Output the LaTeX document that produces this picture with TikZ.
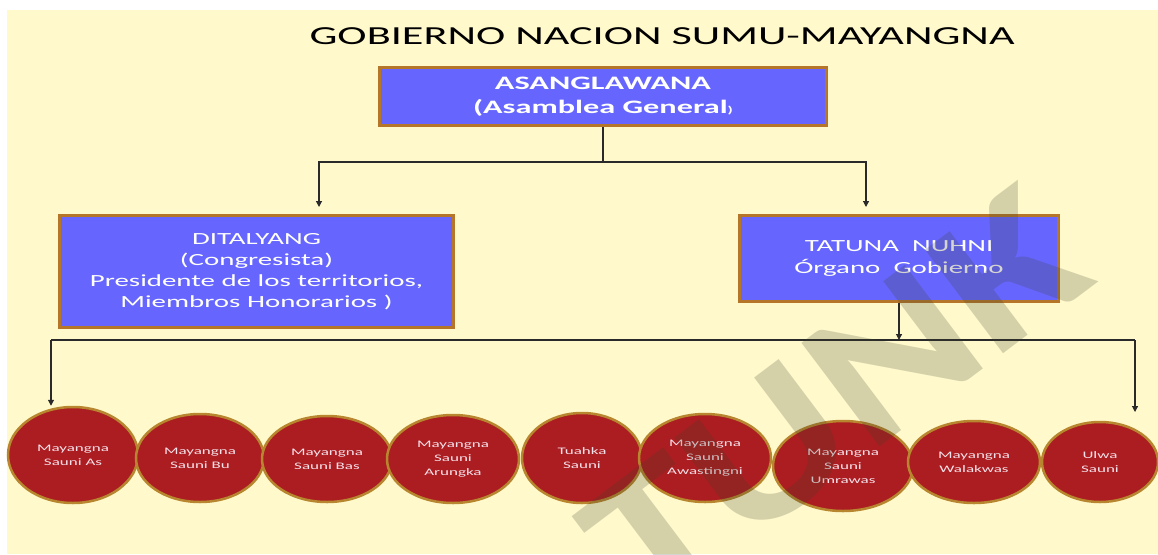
\documentclass[tikz,border=0pt]{standalone}
\usepackage{fontspec}
\setmainfont{Carlito}[FakeStretch=1.7]
\newfontfamily\wmfont{Carlito}[FakeStretch=1.2]
\usetikzlibrary{positioning,arrows.meta,shapes.geometric}
\definecolor{bgyellow}{HTML}{FFF9CC}
\definecolor{boxblue}{HTML}{6666FF}
\definecolor{boxborder}{HTML}{B5762A}
\definecolor{circred}{HTML}{AC1D21}
\definecolor{circborder}{HTML}{B8862E}
\definecolor{circtext}{HTML}{F5E2EA}
\definecolor{linegray}{HTML}{2A2A2A}
\definecolor{wmark}{HTML}{3D402A}
\tikzset{
  govbox/.style={rectangle, draw=boxborder, fill=boxblue, line width=3pt, text=white, align=center, inner sep=0pt},
  saunicircle/.style={ellipse, draw=circborder, fill=circred, line width=2.5pt, text=circtext, align=center, inner sep=0pt, font=\fontsize{10}{14}\selectfont},
  fwd/.style={-{Triangle[width=6pt,length=6pt]}, line width=1.2pt, draw=linegray},
  link/.style={line width=1.2pt, draw=linegray},
}
\begin{document}
\begin{tikzpicture}[x=1pt,y=-1pt]
  \useasboundingbox (0,0) rectangle (1158,554);
  \fill[bgyellow] (7,10) rectangle (1158,554);

  \node[anchor=base, font=\fontsize{26}{30}\selectfont] (title) at (662,44) {GOBIERNO NACION SUMU-MAYANGNA};

  \node[govbox, minimum width=447, minimum height=58, font=\bfseries\fontsize{19}{24}\selectfont] (asang) at (603,96.5) {ASANGLAWANA\\(Asamblea General{\fontsize{10}{10}\selectfont )}};
  \node[govbox, minimum width=394, minimum height=112, font=\fontsize{17}{21}\selectfont] (ditalyang) at (256.5,271.5) {DITALYANG\\(Congresista)\\Presidente de los territorios,\\Miembros Honorarios )};
  \node[govbox, minimum width=319, minimum height=86, font=\fontsize{17}{22}\selectfont] (tatuna) at (899,258.5) {TATUNA\ \ NUHNI\\Órgano\ \ Gobierno};

  % comunidades
  \foreach \n/\cx/\cy/\rx/\ry/\lbl in {
      1/73/455/65/48/{Mayangna\\Sauni As},
      2/200/458/64/44/{Mayangna\\Sauni Bu},
      3/327/459/65/43/{Mayangna\\Sauni Bas},
      4/453/459/66/44/{Mayangna\\Sauni\\Arungka},
      5/582/458/60/45/{Tuahka\\Sauni},
      6/705/458/66/44/{Mayangna\\Sauni\\Awastingni},
      7/843/466/70/45/{Mayangna\\Sauni\\Umrawas},
      8/974/462/66/41/{Mayangna\\Walakwas},
      9/1100/462/58/40/{Ulwa\\Sauni}}
    \node[saunicircle, minimum width=2*\rx, minimum height=2*\ry] (c\n) at (\cx,\cy) {\lbl};

  \coordinate (split) at (asang.south |- 0,162);
  \draw[link] (asang.south) -- (split);
  \draw[fwd, shorten >=7pt] (split) -| ([xshift=62.5pt]ditalyang.north);
  \draw[fwd, shorten >=7pt] (split) -| ([xshift=-33pt]tatuna.north);

  \coordinate (busL) at (51,340);
  \coordinate (busR) at (1135,340);
  \coordinate (endR) at (1135,412);
  \draw[fwd] (tatuna.south) -- (tatuna.south |- busL);
  \draw[link] (busL) -- (busR);
  \draw[fwd] (busL) -- (busL |- c1.north);
  \draw[fwd] (busR) -- (endR);

  \node[rotate=37, text=wmark, text opacity=0.22, font=\wmfont\bfseries\fontsize{200}{200}\selectfont] (wmtext) at (835,400) {TUNK};
\end{tikzpicture}
\end{document}
